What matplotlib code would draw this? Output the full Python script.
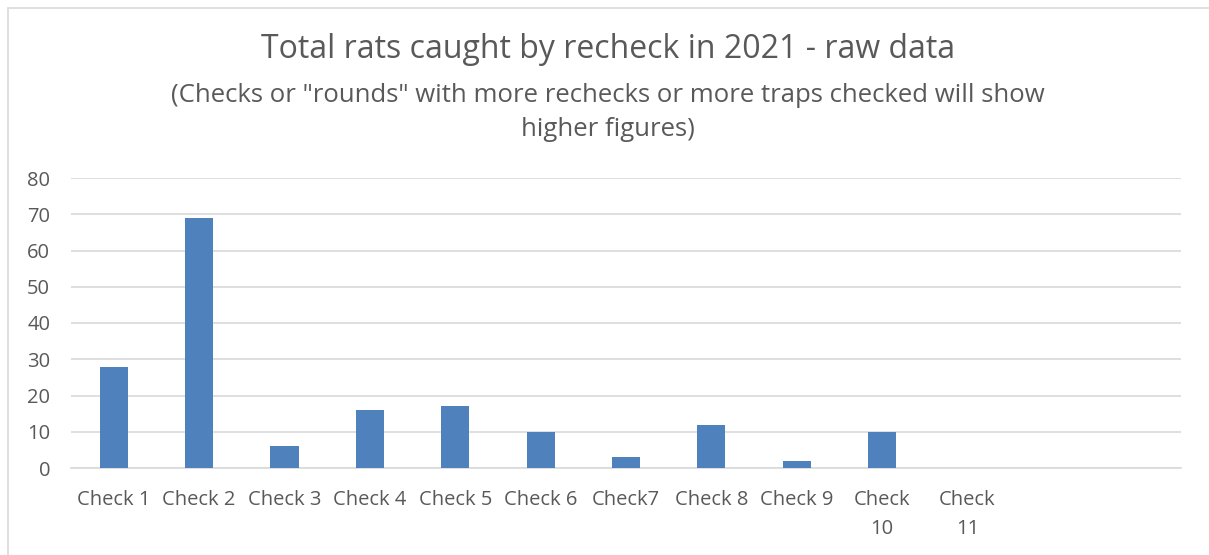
import matplotlib
matplotlib.use("Agg")
import matplotlib.pyplot as plt
from matplotlib.patches import Rectangle

categories = ["Check 1", "Check 2", "Check 3", "Check 4", "Check 5", "Check 6",
              "Check7", "Check 8", "Check 9", "Check\n10", "Check\n11"]
rats_caught = [28, 69, 6, 16, 17, 10, 3, 12, 2, 10, 0]
n_slots = 13  # category axis keeps two trailing empty slots

title = "Total rats caught by recheck in 2021 - raw data"
subtitle = "(Checks or \"rounds\" with more rechecks or more traps checked will show\nhigher figures)"

plt.rcParams['font.family'] = ['Open Sans', 'DejaVu Sans']
text_color = "#595959"
bar_color = "#4F81BD"
grid_color = "#D9D9D9"

fig = plt.figure(figsize=(12.09, 5.55), dpi=100)
fig.patches.append(Rectangle((8 / 1209, -0.1), 1.2, (555 - 8) / 555 + 0.1,
                             transform=fig.transFigure, fill=False,
                             edgecolor="#D9D9D9", linewidth=1.2))

ax = fig.add_axes([71 / 1209, (555 - 468) / 555, (1181 - 71) / 1209, (468 - 178) / 555])
x = list(range(len(categories)))
ax.bar(x, rats_caught, width=0.33, color=bar_color, zorder=3)
ax.set_xlim(-0.5, n_slots - 0.5)
ax.set_ylim(0, 80)
ax.set_yticks(range(0, 81, 10))
ax.set_xticks(x)
ax.set_xticklabels(categories, fontsize=14.5, color=text_color, linespacing=1.6,
                   va="top")
ax.tick_params(axis="y", labelsize=14.5, colors=text_color, length=0, pad=15)
ax.tick_params(axis="x", length=0, pad=16)
ax.grid(axis="y", color=grid_color, linewidth=1.2, zorder=0)
for s in ["top", "right", "left"]:
    ax.spines[s].set_visible(False)
ax.spines["bottom"].set_color(grid_color)
ax.spines["bottom"].set_linewidth(1.2)

fig.text(608 / 1209, 1 - 50 / 555, title, ha="center", va="center",
         fontsize=23, color=text_color)
fig.text(608 / 1209, 1 - 112.5 / 555, subtitle, ha="center", va="center",
         fontsize=18.5, color=text_color, linespacing=1.5)

fig.savefig("out.png", dpi=100)
